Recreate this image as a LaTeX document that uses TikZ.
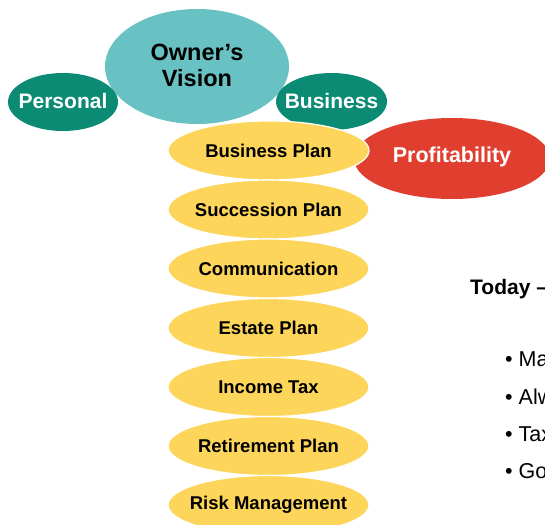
\documentclass[tikz,border=0pt]{standalone}
\usepackage{fontspec}
\setmainfont{Liberation Sans}
\usetikzlibrary{shapes.geometric}
\definecolor{visionteal}{HTML}{68C1C3}
\definecolor{darkgreen}{HTML}{0B8B74}
\definecolor{planyellow}{HTML}{FDD55A}
\definecolor{profitred}{HTML}{E03E2F}
\tikzset{
  blob/.style={ellipse, inner sep=0pt, outer sep=0pt},
  greentext/.style={text=white, inner sep=0pt, font=\fontsize{21}{24}\selectfont\bfseries},
  planblob/.style={blob, fill=planyellow, draw=white, line width=1.2pt, minimum width=201pt, minimum height=59pt},
  plantext/.style={inner sep=0pt, font=\fontsize{18.5}{22}\selectfont\bfseries},
  bullettext/.style={anchor=west, inner sep=0pt, font=\fontsize{21.5}{24}\selectfont},
}
\begin{document}
\begin{tikzpicture}[x=1pt,y=-1pt]
\useasboundingbox (0,0) rectangle (545,524);
\clip (0,0) rectangle (545,524);
\fill[white] (0,0) rectangle (545,524);
% top cluster
\node[blob, fill=visionteal, minimum width=184pt, minimum height=115pt] (vision) at (197,66.5) {};
\node[align=center, inner sep=0pt, font=\fontsize{23.5}{26}\selectfont\bfseries] (visiontext) at (197,65) {Owner’s\\Vision};
\node[blob, fill=darkgreen, minimum width=110pt, minimum height=58pt] (personal) at (63,102) {};
\node[greentext] (personaltext) at (63,101) {Personal};
\node[blob, fill=darkgreen, minimum width=111pt, minimum height=57pt] (business) at (331.5,101.5) {};
\node[greentext] (businesstext) at (331.5,101) {Business};
\node[blob, fill=profitred, minimum width=196pt, minimum height=81pt] (profit) at (452,158.5) {};
\node[text=white, inner sep=0pt, font=\fontsize{21.5}{24}\selectfont\bfseries] (profittext) at (452,157) {Profitability};
% plan column
\foreach \nm/\yy/\txt in {bplan/150.5/Business Plan, succ/209.5/Succession Plan, comm/268.5/Communication,
    estate/328/Estate Plan, income/387/Income Tax, retire/446/Retirement Plan, risk/505/Risk Management}{
  \node[planblob] (\nm) at (268.5,\yy) {};
  \node[plantext] (\nm text) at (\nm) {\txt};
}
% right-hand text (cut off at the right edge)
\node[anchor=west, inner sep=0pt, font=\fontsize{21}{24}\selectfont\bfseries] (today) at (470,289.5) {Today –};
\node[bullettext] (b1) at (505,359) {• Ma};
\node[bullettext] (b2) at (505,397) {• Alw};
\node[bullettext] (b3) at (505,434) {• Tax};
\node[bullettext] (b4) at (505,471) {• Go};
\end{tikzpicture}
\end{document}
